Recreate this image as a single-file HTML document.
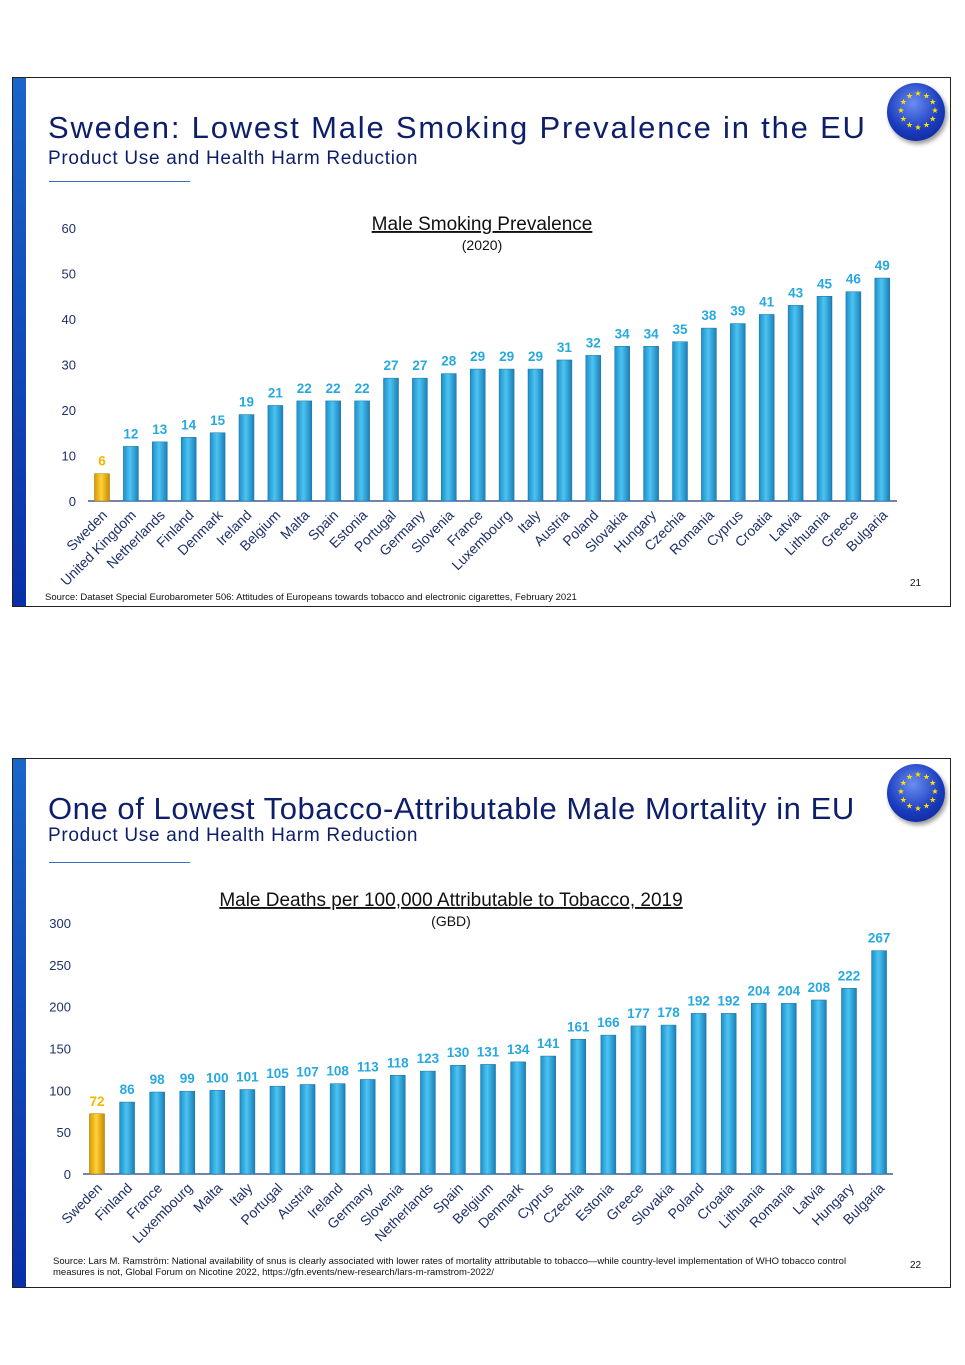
<!DOCTYPE html>
<html><head><meta charset="utf-8">
<style>
body{margin:0;background:#fff;width:965px;height:1365px;position:relative;font-family:"Liberation Sans",sans-serif;overflow:hidden}
.slide{position:absolute;left:12px;width:939px;border:1px solid #222;background:#fff;box-sizing:border-box}
.bar{position:absolute;left:0;top:0;bottom:0;width:13px;background:linear-gradient(#1a66c8,#0a2fa8)}
.title{position:absolute;left:35px;color:#0d1f6b;font-size:31px;white-space:nowrap}
.sub{position:absolute;left:35px;color:#0d1f6b;font-size:19px;white-space:nowrap;letter-spacing:0.7px}
.rule{position:absolute;left:36px;width:141px;height:1px;background:#3a6cc8}
.logo{position:absolute;width:58px;height:58px;border-radius:50%;background:radial-gradient(circle at 45% 35%,#6a8ef0,#1a3cc0 55%,#0a1f80);box-shadow:2px 3px 4px rgba(0,0,0,.4)}
svg{position:absolute;left:0;top:0}
</style></head><body>
<div class="slide" style="top:77px;height:530px">
 <div class="bar"></div>
 <div class="title" style="top:32px;letter-spacing:1.8px">Sweden: Lowest Male Smoking Prevalence in the EU</div>
 <div class="sub" style="top:70px">Product Use and Health Harm Reduction</div>
 <div class="rule" style="top:103px"></div>
 <div class="logo" style="left:874px;top:5px"></div>
</div>
<div class="slide" style="top:758px;height:530px">
 <div class="bar"></div>
 <div class="title" style="top:32px;letter-spacing:0.55px">One of Lowest Tobacco-Attributable Male Mortality in EU</div>
 <div class="sub" style="top:66px">Product Use and Health Harm Reduction</div>
 <div class="rule" style="top:103px"></div>
 <div class="logo" style="left:874px;top:5px"></div>
</div>
<svg id="s" width="965" height="1365">
<defs>
<linearGradient id="gb" x1="0" x2="1"><stop offset="0" stop-color="#1d8fc8"/><stop offset=".45" stop-color="#4cc4f2"/><stop offset="1" stop-color="#1a7fb8"/></linearGradient>
<linearGradient id="gy" x1="0" x2="1"><stop offset="0" stop-color="#d99a00"/><stop offset=".45" stop-color="#ffd23a"/><stop offset="1" stop-color="#c88a00"/></linearGradient>
</defs>
</svg>
<script>
const cats1=["Sweden","United Kingdom","Netherlands","Finland","Denmark","Ireland","Belgium","Malta","Spain","Estonia","Portugal","Germany","Slovenia","France","Luxembourg","Italy","Austria","Poland","Slovakia","Hungary","Czechia","Romania","Cyprus","Croatia","Latvia","Lithuania","Greece","Bulgaria"];
const vals1=[6,12,13,14,15,19,21,22,22,22,27,27,28,29,29,29,31,32,34,34,35,38,39,41,43,45,46,49];
const ticks1=[0,10,20,30,40,50,60];
const cats2=["Sweden","Finland","France","Luxembourg","Malta","Italy","Portugal","Austria","Ireland","Germany","Slovenia","Netherlands","Spain","Belgium","Denmark","Cyprus","Czechia","Estonia","Greece","Slovakia","Poland","Croatia","Lithuania","Romania","Latvia","Hungary","Bulgaria"];
const vals2=[72,86,98,99,100,101,105,107,108,113,118,123,130,131,134,141,161,166,177,178,192,192,204,204,208,222,267];
const ticks2=[0,50,100,150,200,250,300];
const svg=document.getElementById('s');const NS="http://www.w3.org/2000/svg";
function el(t,a,txt){const e=document.createElementNS(NS,t);for(const k in a)e.setAttribute(k,a[k]);if(txt!==undefined)e.textContent=txt;svg.appendChild(e);return e;}
function chart(o){
 const y=v=>o.base-(v/o.max)*(o.base-o.top);
 const x=i=>o.x0+i*o.step;
 let ax=el('line',{x1:o.ax0,x2:o.ax1,y1:o.base,y2:o.base,stroke:'#1f3a7a','stroke-width':1.3});
 
 
 o.ticks.forEach(t=>{const e=el('text',{x:o.tx,y:y(t)+5,'text-anchor':'end','font-size':13,fill:'#1f2f6a'},t);
  
  });
 o.cats.forEach((c,i)=>{
  const v=o.vals[i],cx=x(i),yy=y(v),sw=i==0;
  const r=el('rect',{x:cx-o.bw/2,y:yy,width:o.bw,height:o.base-yy,fill:sw?'url(#gy)':'url(#gb)',stroke:sw?'#a07000':'#1a6fa0','stroke-width':0.5});
  
  
  const l=el('text',{x:cx,y:yy-8,'text-anchor':'middle','font-size':13.5,'font-weight':'bold',fill:sw?'#f2b800':'#27a8e0'},v);
  
  
  const cl=el('text',{x:cx+6,y:o.base+15,'text-anchor':'end','font-size':14,fill:'#1f2f6a',transform:`rotate(-45 ${cx+6} ${o.base+15})`},c);
  
  
 });
 const t=el('text',{x:o.cx,y:o.ty,'text-anchor':'middle','font-size':19,fill:'#111','text-decoration':'underline'},o.title);
 
 
 const s=el('text',{x:o.cx,y:o.ty+20,'text-anchor':'middle','font-size':14,fill:'#111'},o.sub);
 
 
}
chart({cats:cats1,vals:vals1,ticks:ticks1,max:60,base:501,top:228,x0:102,step:28.9,bw:15,ax0:88,ax1:897,tx:76,title:"Male Smoking Prevalence",sub:"(2020)",cx:482,ty:230});
chart({cats:cats2,vals:vals2,ticks:ticks2,max:300,base:1174,top:923,x0:97,step:30.08,bw:15,ax0:83,ax1:893,tx:71,title:"Male Deaths per 100,000 Attributable to Tobacco, 2019",sub:"(GBD)",cx:451,ty:906});
function txt(x,y,s,sz,n){const e=el('text',{x:x,y:y,'font-size':sz,fill:'#111'},s);}
txt(45,600,"Source: Dataset Special Eurobarometer 506: Attitudes of Europeans towards tobacco and electronic cigarettes, February 2021",9.5,'source-note');
txt(910,586,"21",10,'page-number');
txt(53,1264,"Source: Lars M. Ramström: National availability of snus is clearly associated with lower rates of mortality attributable to tobacco—while country-level implementation of WHO tobacco control",9.5,'source-note');
txt(53,1275,"measures is not, Global Forum on Nicotine 2022, https://gfn.events/new-research/lars-m-ramstrom-2022/",9.5,'source-note');
txt(910,1268,"22",10,'page-number');
[[918,110],[918,791]].forEach(([cx,cy])=>{for(let k=0;k<12;k++){const a=k*Math.PI/6;const s=el('text',{x:cx+17*Math.sin(a),y:cy-17*Math.cos(a)+3,'text-anchor':'middle','font-size':8,fill:'#ffe000'},'★');}});
</script>
</body></html>
